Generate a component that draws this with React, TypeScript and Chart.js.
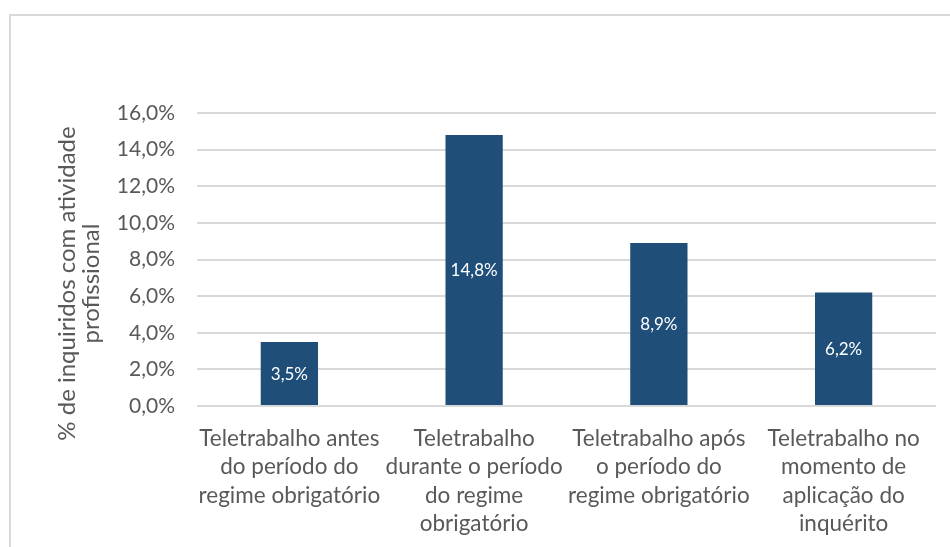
import { useEffect, useRef } from 'react';
import { Chart, registerables } from 'chart.js';

Chart.register(...registerables);

const categories: string[][] = [
  ['Teletrabalho antes', 'do período do', 'regime obrigatório'],
  ['Teletrabalho', 'durante o período', 'do regime', 'obrigatório'],
  ['Teletrabalho após', 'o período do', 'regime obrigatório'],
  ['Teletrabalho no', 'momento de', 'aplicação do', 'inquérito'],
];
const values: number[] = [3.5, 14.8, 8.9, 6.2];
const yMin = 0;
const yMax = 16;
const yStep = 2;
const yTitle: string[] = ['% de inquiridos com atividade', 'profissional'];

const FONT = 'Lato, "Open Sans", sans-serif';
const TEXT = '#595959';
const BAR = '#1F4E79';
const GRID = '#d9d9d9';

const fmt = (v: number) => v.toFixed(1).replace('.', ',') + '%';

const barLabels = {
  id: 'barLabels',
  afterDatasetsDraw(chart: any) {
    const ctx = chart.ctx;
    const meta = chart.getDatasetMeta(0);
    ctx.save();
    ctx.font = `17px ${FONT}`;
    ctx.fillStyle = '#ffffff';
    ctx.textAlign = 'center';
    ctx.textBaseline = 'middle';
    meta.data.forEach((bar: any, i: number) => {
      const { x, y, base } = bar.getProps(['x', 'y', 'base'], true);
      ctx.fillText(fmt(values[i]), x, (y + base) / 2 + 1);
    });
    ctx.restore();
  },
};

const yTitlePlugin = {
  id: 'yTitlePlugin',
  afterDraw(chart: any) {
    const ctx = chart.ctx;
    const area = chart.chartArea;
    const cy = (area.top + area.bottom) / 2 + 24;
    ctx.save();
    ctx.font = `24px ${FONT}`;
    ctx.fillStyle = TEXT;
    ctx.textAlign = 'center';
    ctx.textBaseline = 'middle';
    const xs = [67, 91];
    yTitle.forEach((line, i) => {
      ctx.save();
      ctx.translate(xs[i], cy);
      ctx.rotate(-Math.PI / 2);
      ctx.fillText(line, 0, 0);
      ctx.restore();
    });
    ctx.restore();
  },
};

export default function App() {
  const ref = useRef<HTMLCanvasElement>(null);
  useEffect(() => {
    const chart = new Chart(ref.current as HTMLCanvasElement, {
      type: 'bar',
      data: {
        labels: categories,
        datasets: [
          {
            data: values,
            backgroundColor: BAR,
            borderWidth: 0,
            barPercentage: 0.31,
            categoryPercentage: 1,
          },
        ],
      },
      options: {
        responsive: false,
        animation: false,
        layout: { padding: { top: 113, right: 14, left: 0, bottom: 0 } },
        plugins: { legend: { display: false }, tooltip: { enabled: false } },
        scales: {
          x: {
            grid: { display: false, drawTicks: false },
            border: { display: false },
            ticks: {
              color: TEXT,
              font: { family: FONT, size: 22.5, lineHeight: 1.27 },
              padding: 18,
              maxRotation: 0,
              autoSkip: false,
            },
            afterFit: (s: any) => {
              s.height = 141;
            },
          },
          y: {
            min: yMin,
            max: yMax,
            grid: { color: GRID, lineWidth: 2, drawTicks: false },
            border: { display: false },
            ticks: {
              stepSize: yStep,
              color: TEXT,
              font: { family: FONT, size: 21 },
              padding: 22,
              callback: (v: any) => fmt(Number(v)),
            },
            afterFit: (s: any) => {
              s.width = 197;
            },
          },
        },
      },
      plugins: [barLabels, yTitlePlugin],
    });
    return () => chart.destroy();
  }, []);
  return (
    <div
      style={{
        position: 'fixed',
        left: 0,
        top: 0,
        width: 950,
        height: 547,
        overflow: 'hidden',
        background: '#ffffff',
      }}
    >
      <div
        style={{
          position: 'absolute',
          left: 9,
          top: 14,
          width: 1000,
          height: 1000,
          border: `2px solid ${GRID}`,
          boxSizing: 'border-box',
        }}
      />
      <canvas ref={ref} width={950} height={547} style={{ position: 'absolute', left: 0, top: 0 }} />
    </div>
  );
}
